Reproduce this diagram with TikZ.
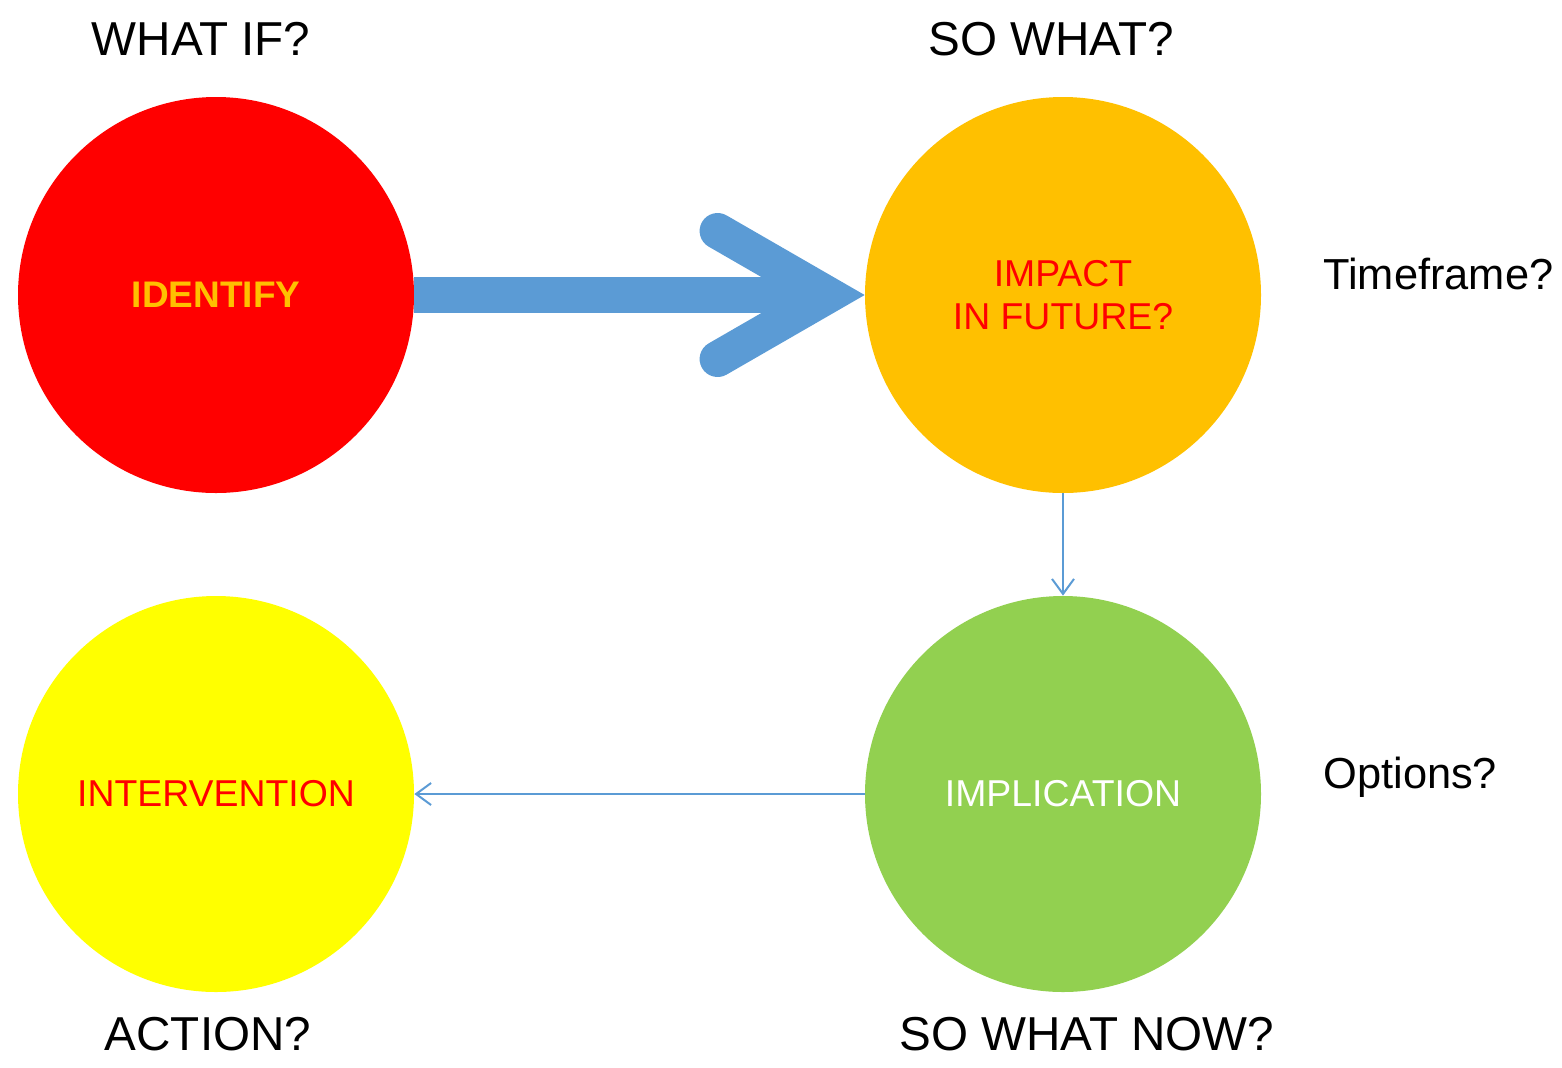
\documentclass[tikz,border=0pt]{standalone}
\usepackage{fontspec}
\setmainfont{Liberation Sans}
\usetikzlibrary{arrows.meta}
\definecolor{idred}{HTML}{FF0000}
\definecolor{impamber}{HTML}{FFC000}
\definecolor{impgreen}{HTML}{92D050}
\definecolor{intyellow}{HTML}{FFFF00}
\definecolor{flowblue}{HTML}{5B9BD5}
\begin{document}
\begin{tikzpicture}[x=0.5pt,y=-0.5pt,
    stage/.style={circle,inner sep=0pt,minimum size=198pt,align=center,font=\fontsize{18.7}{21.5}\selectfont},
    question/.style={anchor=base,inner sep=0pt,font=\fontsize{23.8}{28}\selectfont},
    aside/.style={anchor=base west,inner sep=0pt,font=\fontsize{21.7}{26}\selectfont},
    thinflow/.style={flowblue,line width=1pt,-{Straight Barb[length=7.5pt,width=11pt]}}]
  \useasboundingbox (0,0) rectangle (1562,1067);
  % kruhy
  \node[stage,fill=idred,text=impamber,font=\fontsize{18.5}{21}\selectfont\bfseries] (identify) at (216,295) {IDENTIFY};
  \node[stage,fill=impamber,text=idred] (impact) at (1063,295) {IMPACT\\IN FUTURE?};
  \node[stage,fill=impgreen,text=white] (implication) at (1063,794) {IMPLICATION};
  \node[stage,fill=intyellow,text=idred] (intervention) at (216,794) {INTERVENTION};
  % otazky
  \node[question] (whatif) at (201,55) {WHAT IF?};
  \node[question] (sowhat) at (1051,55) {SO WHAT?};
  \node[question] (action) at (208,1050) {ACTION?};
  \node[question] (sowhatnow) at (1087,1050) {SO WHAT NOW?};
  \node[aside] (timeframe) at (1323,289) {Timeframe?};
  \node[aside] (options) at (1323,788) {Options?};
  % velka sipka
  \coordinate (tip) at ([xshift=-18pt]impact.west);
  \draw[flowblue,line width=18pt] (identify.east) -- (tip);
  \draw[flowblue,line width=18pt,line cap=round,line join=miter]
    (tip) ++(-111,-64) -- (tip) -- ++(-111,64);
  % tenke sipky
  \draw[thinflow] (impact.south) -- (implication.north);
  \draw[thinflow] (implication.west) -- (intervention.east);
\end{tikzpicture}
\end{document}
